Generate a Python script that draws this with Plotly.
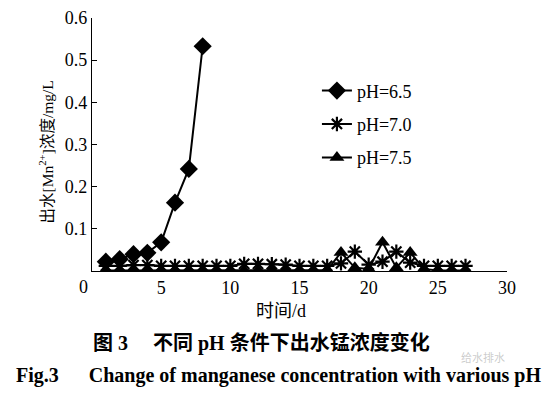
import plotly.graph_objects as go

days_65 = [1, 2, 3, 4, 5, 6, 7, 8]
mn_65 = [0.022, 0.028, 0.040, 0.043, 0.068, 0.162, 0.242, 0.533]

days = list(range(1, 28))
mn_70 = [0.012, 0.012, 0.014, 0.014, 0.012, 0.012, 0.012, 0.012, 0.012, 0.012,
         0.017, 0.017, 0.016, 0.015, 0.012, 0.012, 0.012, 0.018, 0.046, 0.015,
         0.022, 0.046, 0.020, 0.012, 0.012, 0.012, 0.012]
mn_75 = [0.001, 0.001, 0.001, 0.001, 0.001, 0.001, 0.001, 0.001, 0.001, 0.001,
         0.001, 0.001, 0.001, 0.001, 0.001, 0.001, 0.002, 0.044, 0.008, 0.005,
         0.068, 0.008, 0.044, 0.005, 0.001, 0.001, 0.001]

names = ["pH=6.5", "pH=7.0", "pH=7.5"]
x_ticks = [5, 10, 15, 20, 25, 30]
y_ticks = [0.1, 0.2, 0.3, 0.4, 0.5, 0.6]

SERIF = "Times New Roman, Liberation Serif, Noto Sans CJK SC, serif"

fig = go.Figure()
fig.add_trace(go.Scatter(x=days, y=mn_75, name=names[2], mode="lines+markers",
                         legendgroup="c", legendrank=3,
                         line=dict(color="black", width=2),
                         marker=dict(symbol="triangle-up", size=13, color="black")))
fig.add_trace(go.Scatter(x=days, y=mn_70, name=names[1], mode="lines+markers",
                         legendgroup="b", legendrank=2,
                         line=dict(color="black", width=2),
                         marker=dict(symbol="asterisk-open", size=12,
                                     line=dict(color="black", width=2.2))))
fig.add_trace(go.Scatter(x=days_65, y=mn_65, name=names[0], mode="lines+markers",
                         legendgroup="a", legendrank=1,
                         line=dict(color="black", width=2),
                         marker=dict(symbol="diamond", size=14, color="black")))

fig.update_layout(
    width=553, height=393,
    margin=dict(l=92, r=46, t=18, b=121.5),
    paper_bgcolor="white", plot_bgcolor="white",
    font=dict(family=SERIF, size=15, color="black"),
    showlegend=True,
    legend=dict(x=0.542, y=0.785, xanchor="left", yanchor="top",
                font=dict(size=18), bgcolor="rgba(0,0,0,0)",
                itemwidth=30, tracegroupgap=7),
    xaxis=dict(range=[0, 30], tickvals=x_ticks, ticks="inside", ticklen=5,
               showline=True, linecolor="black", linewidth=1.2, showgrid=False,
               zeroline=False, tickfont=dict(size=18), tickcolor="black",
               automargin=False),
    yaxis=dict(range=[0, 0.6], tickvals=y_ticks, ticks="inside", ticklen=5,
               showline=True, linecolor="black", linewidth=1.2, showgrid=False,
               zeroline=False, tickfont=dict(size=18), tickcolor="black",
               automargin=False),
)

def note(text, x, yshift, size, xshift=0, color="black", y=0, angle=0):
    fig.add_annotation(text=text, xref="paper", yref="paper", x=x, y=y,
                       xshift=xshift, yshift=yshift, xanchor="center", yanchor="middle",
                       textangle=angle, showarrow=False, font=dict(size=size, color=color))

note("出水[Mn<sup>2+</sup>]浓度/mg/L", 0, -8, 15.5, xshift=-46, y=0.5, angle=-90)
note("0", 0, -15.5, 18, xshift=-9)
note("时间/d", 0.455, -39.5, 18)
note("<b>图 3　 不同 pH 条件下出水锰浓度变化</b>", 0.408, -71.5, 20)
note("<b>Fig.3　  Change of manganese concentration with various pH</b>", 0.45, -104.5, 20)
note("给水排水", 0.942, -86, 11, color="rgba(160,160,160,0.55)")

fig.write_html("out.html", config={"displayModeBar": False},
               post_script="document.body.style.margin='0';")
